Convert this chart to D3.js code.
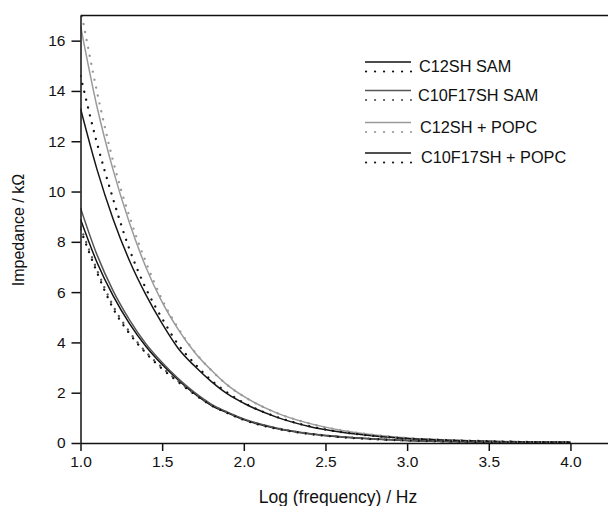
<!DOCTYPE html>
<html>
<head>
<meta charset="utf-8">
<script src="https://cdn.jsdelivr.net/npm/d3@7"></script>
<style>
  body { margin: 0; background: #fff; }
  svg { display: block; font-family: "Liberation Sans", Arial, Helvetica, sans-serif; }
</style>
</head>
<body>
<div id="chart"></div>
<script>
// data (log frequency vs impedance in kOhm)
const logFreq = [1.0, 1.1, 1.2, 1.3, 1.4, 1.5, 1.6, 1.7, 1.8, 1.9, 2.0, 2.2, 2.4, 2.6, 2.8, 3.0, 3.25, 3.5, 3.75, 4.0];

const c12samFit   = [8.9, 7.2, 5.85, 4.75, 3.85, 3.12, 2.5, 1.95, 1.5, 1.2, 0.93, 0.58, 0.37, 0.24, 0.16, 0.1, 0.06, 0.04, 0.03, 0.02];
const c12samData  = [8.5, 6.8, 5.35, 4.35, 3.58, 2.95, 2.42, 1.93, 1.5, 1.19, 0.92, 0.57, 0.36, 0.23, 0.15, 0.1, 0.06, 0.04, 0.03, 0.02];
const c10samFit   = [9.35, 7.5, 6.05, 4.9, 3.95, 3.2, 2.55, 2.0, 1.55, 1.23, 0.96, 0.6, 0.38, 0.25, 0.16, 0.1, 0.06, 0.04, 0.03, 0.02];
const c10samData  = [8.6, 6.9, 5.45, 4.42, 3.62, 3.0, 2.45, 1.95, 1.52, 1.21, 0.94, 0.59, 0.37, 0.24, 0.16, 0.1, 0.06, 0.04, 0.03, 0.02];
const c12popcFit  = [16.6, 13.4, 10.85, 8.75, 7.0, 5.6, 4.5, 3.6, 2.9, 2.3, 1.85, 1.2, 0.78, 0.5, 0.32, 0.2, 0.12, 0.07, 0.04, 0.03];
const c12popcData = [17.3, 14.0, 11.2, 9.0, 7.2, 5.7, 4.55, 3.62, 2.9, 2.3, 1.85, 1.2, 0.78, 0.5, 0.32, 0.2, 0.12, 0.07, 0.04, 0.03];
const c10popcFit  = [13.3, 10.9, 8.9, 7.25, 5.9, 4.75, 3.75, 3.05, 2.45, 1.95, 1.58, 1.03, 0.66, 0.43, 0.28, 0.18, 0.11, 0.07, 0.04, 0.03];
const c10popcData = [14.6, 11.95, 9.7, 7.7, 6.15, 4.95, 3.9, 3.15, 2.5, 2.0, 1.6, 1.04, 0.67, 0.43, 0.28, 0.18, 0.11, 0.07, 0.04, 0.03];

const legendNames = ["C12SH SAM", "C10F17SH SAM", "C12SH + POPC", "C10F17SH + POPC"];
const xTicks = [1.0, 1.5, 2.0, 2.5, 3.0, 3.5, 4.0];
const yTicks = [0, 2, 4, 6, 8, 10, 12, 14, 16];

const series = [
  { name: legendNames[0], fit: c12samFit,  data: c12samData,  color: "#111" },
  { name: legendNames[1], fit: c10samFit,  data: c10samData,  color: "#555" },
  { name: legendNames[2], fit: c12popcFit, data: c12popcData, color: "#9a9a9a" },
  { name: legendNames[3], fit: c10popcFit, data: c10popcData, color: "#161616" }
];

const W = 608, H = 506;
const plotL = 80.5, plotT = 15.5, plotB = 443, plotR = 608;

const svg = d3.select("#chart").append("svg")
  .attr("width", W).attr("height", H);

const x = d3.scaleLinear().domain([1, 4.23]).range([plotL, plotR]);
const y = d3.scaleLinear().domain([0, 17]).range([plotB, plotT]);

svg.append("clipPath").attr("id", "plot")
  .append("rect")
    .attr("x", plotL).attr("y", plotT)
    .attr("width", plotR - plotL).attr("height", plotB - plotT);

const line = d3.line()
  .x((d, i) => x(logFreq[i]))
  .y(d => y(d))
  .curve(d3.curveMonotoneX);

const curves = svg.append("g").attr("clip-path", "url(#plot)");

// solid fit lines first, dotted data on top
series.forEach(s => {
  curves.append("path")
    .datum(s.fit)
    .attr("fill", "none")
    .attr("stroke", s.color)
    .attr("stroke-width", 1.5)
    .attr("d", line);
});
series.forEach(s => {
  curves.append("path")
    .datum(s.data)
    .attr("fill", "none")
    .attr("stroke", s.color)
    .attr("stroke-width", 2.3)
    .attr("stroke-linecap", "round")
    .attr("stroke-dasharray", "0.1 8")
    .attr("d", line);
});

// axes
const xAxis = svg.append("g")
  .attr("transform", `translate(0,${plotB})`)
  .call(d3.axisBottom(x).tickValues(xTicks).tickFormat(d3.format(".1f")).tickSize(8).tickSizeOuter(0).tickPadding(5));

const yAxis = svg.append("g")
  .attr("transform", `translate(${plotL},0)`)
  .call(d3.axisLeft(y).tickValues(yTicks).tickSize(9).tickSizeOuter(0).tickPadding(6));

[xAxis, yAxis].forEach(g => {
  g.selectAll("path, line").attr("stroke", "#111").attr("stroke-width", 1.5);
  g.selectAll("text").attr("fill", "#111").attr("font-size", 15.5)
    .attr("font-family", "'Liberation Sans', Arial, sans-serif");
});

// top frame
svg.append("line")
  .attr("x1", plotL).attr("x2", plotR)
  .attr("y1", plotT).attr("y2", plotT)
  .attr("stroke", "#111").attr("stroke-width", 1.5);

// axis titles
svg.append("text")
  .attr("x", 338).attr("y", 503)
  .attr("text-anchor", "middle")
  .attr("font-size", 17.5)
  .attr("fill", "#111")
  .text("Log (frequency) / Hz");

svg.append("text")
  .attr("transform", "translate(24,230) rotate(-90)")
  .attr("text-anchor", "middle")
  .attr("font-size", 16)
  .attr("fill", "#111")
  .text("Impedance / k\u03A9");

// legend
const legendY = [62, 90.5, 122.5, 153];
const legendTextX = [419, 418, 420, 421];
const legend = svg.append("g");
series.forEach((s, i) => {
  const g = legend.append("g").attr("transform", `translate(0,${legendY[i]})`);
  g.append("line")
    .attr("x1", 365).attr("x2", 411).attr("y1", 0).attr("y2", 0)
    .attr("stroke", s.color).attr("stroke-width", 1.5);
  g.append("line")
    .attr("x1", 366).attr("x2", 411).attr("y1", 9.5).attr("y2", 9.5)
    .attr("stroke", s.color).attr("stroke-width", 2.2)
    .attr("stroke-linecap", "round")
    .attr("stroke-dasharray", "0.1 8.9");
  g.append("text")
    .attr("x", legendTextX[i]).attr("y", 10)
    .attr("font-size", 16.3)
    .attr("fill", "#111")
    .text(s.name);
});
</script>
</body>
</html>
